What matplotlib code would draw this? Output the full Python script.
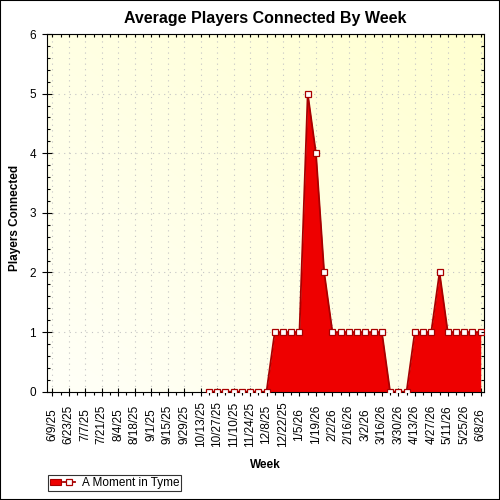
import matplotlib
matplotlib.use("Agg")
import matplotlib.pyplot as plt
import numpy as np
from matplotlib.patches import Patch, Rectangle
from matplotlib.lines import Line2D
from matplotlib.legend_handler import HandlerTuple
from matplotlib.colors import LinearSegmentedColormap

plt.rcParams['font.family'] = ['Liberation Sans', 'DejaVu Sans']

# ---- data ----
tick_labels = ["6/9/25", "6/23/25", "7/7/25", "7/21/25", "8/4/25", "8/18/25",
               "9/1/25", "9/15/25", "9/29/25", "10/13/25", "10/27/25", "11/10/25",
               "11/24/25", "12/8/25", "12/22/25", "1/5/26", "1/19/26", "2/2/26",
               "2/16/26", "3/2/26", "3/16/26", "3/30/26", "4/13/26", "4/27/26",
               "5/11/26", "5/25/26", "6/8/26"]
nan = np.nan
players = [nan, nan, nan, nan, nan, nan, nan, nan, nan, nan,
           nan, nan, nan, nan, nan, nan, nan, nan, nan,
           0, 0, 0, 0, 0, 0, 0, 0,
           1, 1, 1, 1,
           5, 4, 2,
           1, 1, 1, 1, 1, 1, 1,
           0, 0, 0,
           1, 1, 1,
           2,
           1, 1, 1, 1, 1]
series_name = "A Moment in Tyme"

RED = '#EE0000'
DARK = '#A80000'

y = np.array(players, dtype=float)
x = np.arange(len(y))
valid = np.isfinite(y)

fig = plt.figure(figsize=(5, 5), dpi=100)
W = H = 500.0
L, R, T, B = 47.3, 484.0, 34.0, 391.7
ax = fig.add_axes([L / W, 1 - B / H, (R - L) / W, (B - T) / H])

xlim = (-0.61, 52.4)
ylim = (0, 6)

# gradient background
cmap = LinearSegmentedColormap.from_list('bg', ['#FFFFF8', '#FFFFD0'])
gx, gy = np.meshgrid(np.linspace(0, 1, 200), np.linspace(0, 1, 200))
grad = (gx + gy) / 2.0
ax.imshow(grad, cmap=cmap, extent=[xlim[0], xlim[1], ylim[0], ylim[1]],
          origin='lower', aspect='auto', zorder=0, interpolation='bilinear')

ax.fill_between(x, np.where(valid, y, 0), 0, where=valid, color=RED,
                linewidth=0, zorder=2)
ax.plot(x, y, color=DARK, lw=1.3, zorder=3)
ax.plot(x, y, linestyle='none', marker='s', markersize=4.8, mfc='white',
        mec=DARK, mew=0.9, zorder=4)

ax.set_xlim(*xlim)
ax.set_ylim(*ylim)

# ticks
ax.set_xticks(x[::2])
ax.set_xticklabels(tick_labels, rotation=90, fontsize=8.5)
ax.set_xticks(x, minor=True)
ax.set_yticks(np.arange(0, 7, 1))
ax.set_yticklabels([str(v) for v in range(7)], fontsize=8.5)
ax.set_yticks(np.arange(0, 6.01, 0.2), minor=True)
ax.tick_params(axis='x', which='major', direction='inout', length=6, width=0.8, pad=20.5)
ax.tick_params(axis='x', which='minor', direction='out', length=2.2, width=0.8)
ax.tick_params(axis='y', which='major', direction='inout', length=7.5, width=0.8, pad=4.4)
ax.tick_params(axis='y', which='minor', direction='in', length=2.2, width=0.8)
for lab in ax.get_xticklabels():
    lab.set_va('center')

ax.set_axisbelow(True)
ax.grid(True, which='major', color='#C4C4C4', linestyle=(0, (1, 4)), lw=0.8)

for s in ax.spines.values():
    s.set_linewidth(0.8)
    s.set_color('black')

# top ticks
axt = ax.twiny()
axt.set_xlim(*xlim)
axt.set_xticks(x)
axt.set_xticklabels([])
axt.xaxis.set_ticks_position('top')
axt.tick_params(axis='x', direction='in', length=2.4, width=0.8,
                labeltop=False, labelbottom=False)
# right ticks
axr = ax.twinx()
axr.set_ylim(*ylim)
axr.set_yticks(np.arange(0, 6.01, 0.2))
axr.set_yticklabels([])
axr.yaxis.set_ticks_position('right')
axr.tick_params(axis='y', direction='in', length=2.2, width=0.8,
                labelright=False, labelleft=False)
for a in (axt, axr):
    for s in a.spines.values():
        s.set_visible(False)

# texts
fig.text((L + R) / 2 / W, 1 - 18 / H, "Average Players Connected By Week",
         ha='center', va='center', fontsize=11.5, fontweight='bold')
fig.text((L + R) / 2 / W, 1 - 465 / H, "Week", ha='center', va='center',
         fontsize=8.5, fontweight='bold')
fig.text(15 / W, 1 - 218 / H, "Players Connected", ha='center', va='center',
         rotation=90, fontsize=8.5, fontweight='bold')

# legend
h = (Patch(facecolor=RED, edgecolor=DARK, linewidth=0.8),
     Line2D([], [], color=DARK, lw=1.3, marker='s', markersize=4.8,
            mfc='white', mec=DARK, mew=0.9))
leg = fig.legend(handles=[h], labels=[series_name], loc='lower left',
                 bbox_to_anchor=(48 / W, 9 / H), frameon=True, fancybox=False,
                 edgecolor='black', fontsize=8.5, handlelength=2.1,
                 handleheight=0.5, borderpad=0.15, borderaxespad=0,
                 handletextpad=0.6,
                 handler_map={tuple: HandlerTuple(ndivide=None)})
leg.get_frame().set_linewidth(0.8)

fig.patches.append(Rectangle((0, 0), 1, 1, transform=fig.transFigure,
                             fill=False, edgecolor='black', linewidth=1.5))

fig.savefig('out.png', dpi=100)
